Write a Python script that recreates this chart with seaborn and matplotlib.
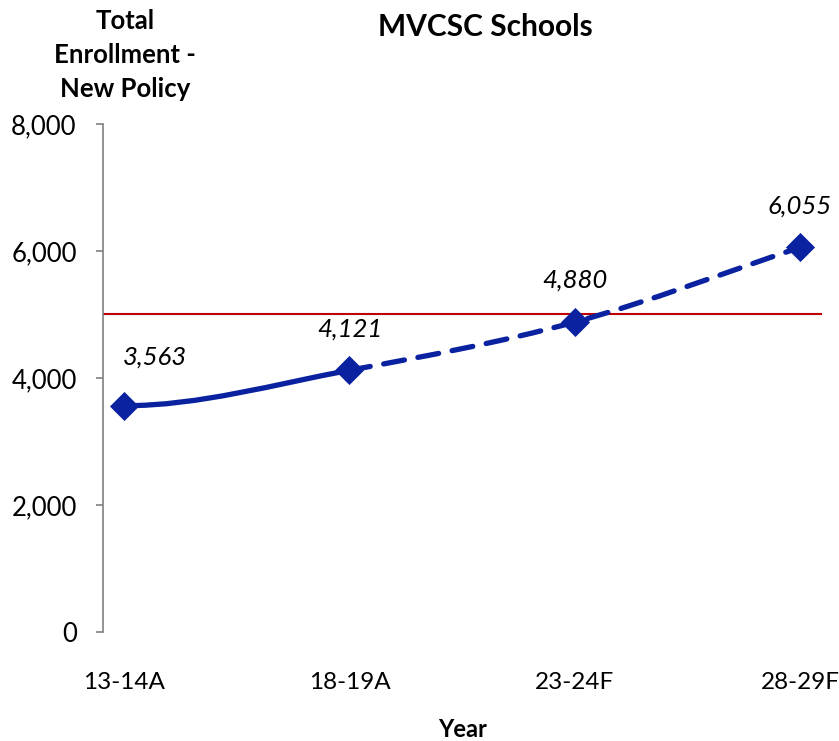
import numpy as np
import pandas as pd
import matplotlib
matplotlib.use("Agg")
import matplotlib.pyplot as plt
from matplotlib.path import Path
from matplotlib.patches import PathPatch
import seaborn as sns

# data
years = ["13-14A", "18-19A", "23-24F", "28-29F"]
enrollment = [3563, 4121, 4880, 6055]
labels = ["3,563", "4,121", "4,880", "6,055"]
capacity = 5000
actual_count = 2  # first two years are actuals, the rest forecasts

sns.set_theme(style="white")
plt.rcParams["font.family"] = ["Lato", "DejaVu Sans"]
plt.rcParams["text.color"] = "black"
plt.rcParams["xtick.labelcolor"] = "black"
plt.rcParams["ytick.labelcolor"] = "black"

blue = "#0A22A0"
red = "#C00000"

df = pd.DataFrame({"year": years, "pos": range(len(years)), "enrollment": enrollment})

fig = plt.figure(figsize=(8.39, 7.41), dpi=100)
ax = fig.add_axes([0.1228, 0.1471, 0.8569, 0.6856])

# smoothed line (catmull-rom style bezier between the points)
pts = df[["pos", "enrollment"]].to_numpy(dtype=float)
tang = np.zeros_like(pts)
tang[1:-1] = (pts[2:] - pts[:-2]) / 2
tang[0] = [1.0, 0.0]  # excel-ish flat start
tang[-1] = pts[-1] - pts[-2]


def seg_path(i0, i1):
    verts = [pts[i0]]
    codes = [Path.MOVETO]
    for i in range(i0, i1):
        verts += [pts[i] + tang[i] / 3, pts[i + 1] - tang[i + 1] / 3, pts[i + 1]]
        codes += [Path.CURVE4] * 3
    return Path(verts, codes)


ax.add_patch(PathPatch(seg_path(0, actual_count - 1), fill=False, edgecolor=blue,
                       lw=3.8, capstyle="round", zorder=3))
ax.add_patch(PathPatch(seg_path(actual_count - 1, len(years) - 1), fill=False, edgecolor=blue,
                       lw=3.8, linestyle=(0, (4, 2.6)), capstyle="round", zorder=3))

ax.axhline(capacity, color=red, lw=1.5, zorder=2)

sns.scatterplot(data=df, x="pos", y="enrollment", marker="D", s=220, color=blue,
                edgecolor=blue, linewidth=0, zorder=4, ax=ax, legend=False)

for i, (x, y, t) in enumerate(zip(df["pos"], enrollment, labels)):
    dx = 22 if i == 0 else 0
    dy = 35 if i == 0 else 30
    ax.annotate(t, (x, y), xytext=(dx, dy), textcoords="offset points",
                ha="center", va="center", fontsize=18.5, style="italic", color="black")

ax.set_xlim(-0.094, 3.098)
ax.set_ylim(0, 8000)
ax.set_xticks(range(len(years)))
ax.set_xticklabels(years)
ax.set_yticks([0, 2000, 4000, 6000, 8000])
ax.set_yticklabels(["0", "2,000", "4,000", "6,000", "8,000"])
ax.tick_params(axis="y", left=True, length=5, width=1.2, color="#808080",
               labelsize=18.5, pad=14)
ax.tick_params(axis="x", bottom=False, labelsize=17.5, pad=23)

for s in ["top", "right", "bottom"]:
    ax.spines[s].set_visible(False)
ax.spines["left"].set_color("#808080")
ax.spines["left"].set_linewidth(1.2)

ax.set_xlabel("")
ax.set_ylabel("")
fig.text(0.551, 0.0155, "Year", ha="center", va="center",
         fontsize=17, fontweight="bold")
fig.text(0.149, 0.926, "Total\nEnrollment -\nNew Policy", ha="center", va="center",
         fontsize=18.5, fontweight="bold", linespacing=1.5)
fig.text(0.578, 0.9636, "MVCSC Schools", ha="center", va="center",
         fontsize=21.5, fontweight="bold")

fig.savefig("out.png", dpi=100)
